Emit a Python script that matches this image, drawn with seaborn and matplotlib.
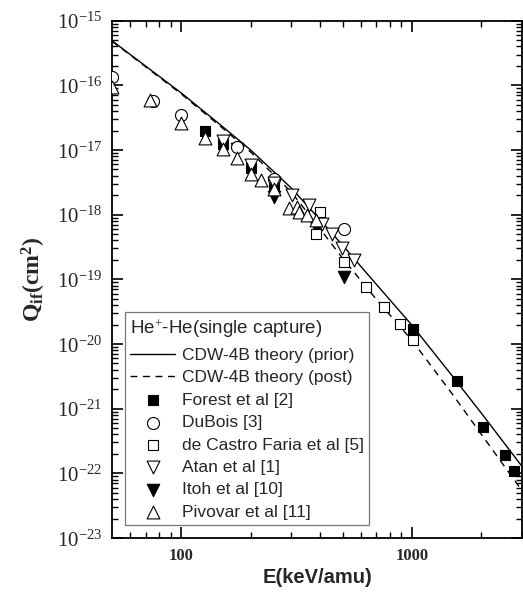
import numpy as np
import pandas as pd
import matplotlib
matplotlib.use("Agg")
import matplotlib.pyplot as plt
import matplotlib.ticker as mticker
import seaborn as sns

# theory curves
e_theory = [50, 100, 150, 200, 300, 400, 500, 700, 1000, 1500, 2000, 3000]
q_prior = [4.90e-16, 7.6e-17, 2.34e-17, 9.95e-18, 2.57e-18, 8.27e-19, 3.37e-19,
           8.4e-20, 1.95e-20, 3.16e-21, 8.5e-22, 1.28e-22]
q_post = [4.82e-16, 7.33e-17, 2.22e-17, 9.27e-18, 2.23e-18, 6.0e-19, 2.12e-19,
          4.92e-20, 1.14e-20, 1.66e-21, 4.0e-22, 5.4e-23]

# experiments
e_forest = [126, 151, 200, 252, 1013, 1560, 2028, 2540, 2780]
q_forest = [1.98e-17, 1.23e-17, 5.2e-18, 2.7e-18, 1.73e-20, 2.67e-21, 5.3e-22, 1.9e-22, 1.07e-22]

e_dubois = [50, 75.5, 100, 175, 252, 506]
q_dubois = [1.33e-16, 5.8e-17, 3.47e-17, 1.1e-17, 3.6e-18, 6.1e-19]

e_castro = [401, 382, 506, 634, 757, 887, 1013]
q_castro = [1.1e-18, 5.1e-19, 1.87e-19, 7.5e-20, 3.8e-20, 2.07e-20, 1.14e-20]

e_atan = [151, 200, 252, 303, 357, 407, 451, 498, 559]
q_atan = [1.39e-17, 5.8e-18, 3.1e-18, 2.0e-18, 1.41e-18, 7.2e-19, 5.1e-19, 3.0e-19, 2.0e-19]

e_itoh = [175, 252, 382, 506]
q_itoh = [1.02e-17, 1.9e-18, 6.5e-19, 1.1e-19]

e_pivovar = [50, 73, 100, 126, 151, 175, 200, 221, 252, 292, 318, 324, 352, 382]
q_pivovar = [9.5e-17, 5.9e-17, 2.58e-17, 1.51e-17, 1.02e-17, 7.4e-18, 4.3e-18, 3.5e-18,
             2.5e-18, 1.26e-18, 1.3e-18, 1.1e-18, 9.8e-19, 8.2e-19]

y_decades = list(range(-23, -14))
legend_order = ['CDW-4B theory (prior)', 'CDW-4B theory (post)', 'Forest et al [2]',
                'DuBois [3]', 'de Castro Faria et al [5]', 'Atan et al [1]',
                'Itoh et al [10]', 'Pivovar et al [11]']

sns.set_style("ticks")
plt.rcParams['font.family'] = ['Liberation Sans', 'DejaVu Sans']
plt.rcParams['mathtext.fontset'] = 'custom'
plt.rcParams['mathtext.rm'] = 'Liberation Serif'
plt.rcParams['mathtext.bf'] = 'Liberation Serif:bold'
plt.rcParams['mathtext.it'] = 'Liberation Serif:italic'

fig = plt.figure(figsize=(5.23, 5.93), dpi=100)
ax = fig.add_axes([112 / 523, 1 - 538 / 593, 410 / 523, 517.3 / 593])

sns.lineplot(x=e_theory, y=q_prior, ax=ax, color='black', lw=1.0,
             label='CDW-4B theory (prior)', zorder=2)
sns.lineplot(x=e_theory, y=q_post, ax=ax, color='black', lw=1.0,
             label='CDW-4B theory (post)', zorder=2)
ax.lines[-1].set_dashes((5, 4))

sns.scatterplot(x=e_forest, y=q_forest, ax=ax, marker='s', s=55, color='black',
                edgecolor='black', linewidth=0.8, label='Forest et al [2]', zorder=3)
sns.scatterplot(x=e_itoh, y=q_itoh, ax=ax, marker='v', s=80, color='black',
                edgecolor='black', linewidth=0.8, label='Itoh et al [10]', zorder=3)
sns.scatterplot(x=e_dubois, y=q_dubois, ax=ax, marker='o', s=75, color='white',
                edgecolor='black', linewidth=0.8, label='DuBois [3]', zorder=4)
sns.scatterplot(x=e_castro, y=q_castro, ax=ax, marker='s', s=50, color='white',
                edgecolor='black', linewidth=0.8, label='de Castro Faria et al [5]', zorder=4)
sns.scatterplot(x=e_atan, y=q_atan, ax=ax, marker='v', s=85, color='white',
                edgecolor='black', linewidth=0.8, label='Atan et al [1]', zorder=5)
sns.scatterplot(x=e_pivovar, y=q_pivovar, ax=ax, marker='^', s=85, color='white',
                edgecolor='black', linewidth=0.8, label='Pivovar et al [11]', zorder=5)

ax.set_xscale('log')
ax.set_yscale('log')
ax.set_xlim(50, 3000)
ax.set_ylim(1e-23, 1e-15)

ax.xaxis.set_major_locator(mticker.FixedLocator([100, 1000]))
ax.xaxis.set_minor_locator(mticker.FixedLocator(
    [60, 70, 80, 90, 200, 300, 400, 500, 600, 700, 800, 900, 2000, 3000]))
ax.xaxis.set_major_formatter(mticker.FixedFormatter(['100', '1000']))
ax.xaxis.set_minor_formatter(mticker.NullFormatter())
ax.yaxis.set_major_locator(mticker.FixedLocator([10.0 ** d for d in y_decades]))
ax.yaxis.set_minor_locator(mticker.LogLocator(base=10, subs=np.arange(2, 10), numticks=20))
ax.yaxis.set_major_formatter(mticker.FixedFormatter([r'$10^{%d}$' % d for d in y_decades]))
ax.yaxis.set_minor_formatter(mticker.NullFormatter())

ax.tick_params(which='both', direction='in', top=True, right=True, color='black')
ax.tick_params(which='major', length=8, width=1.2, pad=7)
ax.tick_params(which='minor', length=4, width=1.0)
ax.tick_params(axis='y', which='major', labelsize=15)
ax.tick_params(axis='x', which='major', labelsize=12)
for lab in ax.get_xticklabels():
    lab.set_fontfamily('Liberation Serif')
    lab.set_fontweight('bold')
for sp in ax.spines.values():
    sp.set_linewidth(1.3)
    sp.set_color('black')

ax.set_xlabel('E(keV/amu)', fontsize=14.5, fontweight='bold', labelpad=3)
ax.set_ylabel(r'$\mathbf{Q_{if}(cm^{2})}$', fontsize=17, labelpad=6)

handles, labels = ax.get_legend_handles_labels()
lookup = dict(zip(labels, handles))
leg = ax.legend([lookup[k] for k in legend_order], legend_order,
                title=r'He$^{+}$-He(single capture)', loc='lower left',
                bbox_to_anchor=(0.032, 0.025), borderaxespad=0, fontsize=12.5,
                title_fontsize=13.5, frameon=True, fancybox=False, edgecolor='#555555',
                handlelength=2.6, handletextpad=0.35, labelspacing=0.42,
                borderpad=0.3)
leg._legend_box.align = 'left'
leg.get_frame().set_linewidth(0.9)
leg.get_title().set_fontfamily(['Liberation Sans', 'DejaVu Sans'])

fig.savefig('out.png', dpi=100)
